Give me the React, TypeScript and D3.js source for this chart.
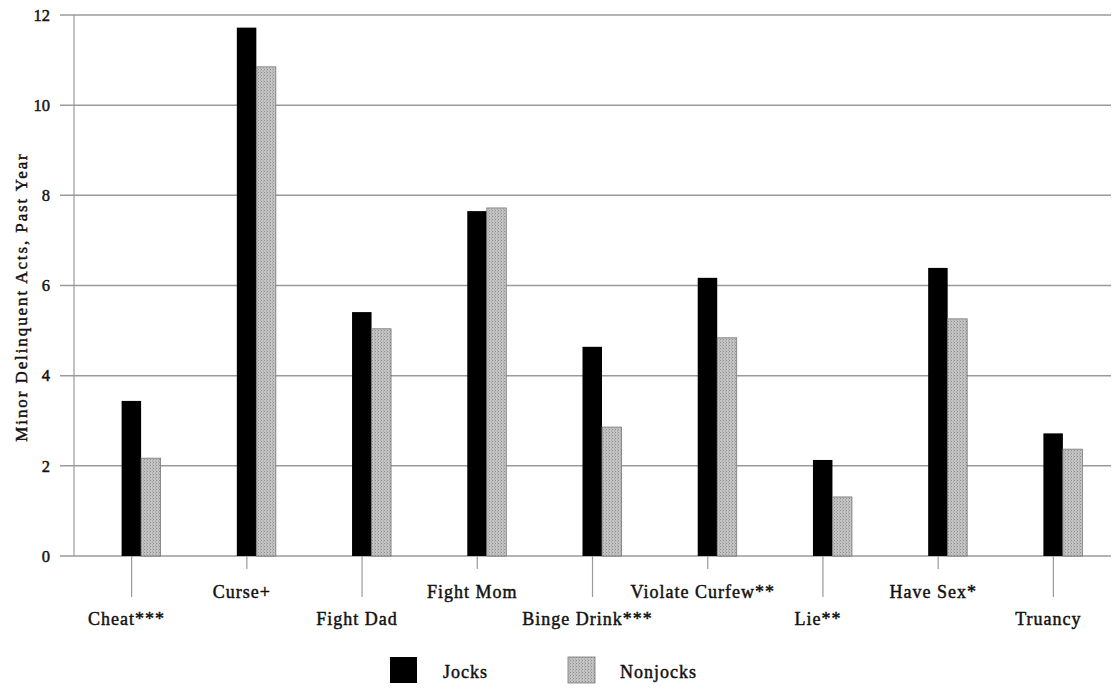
import React from "react";
import * as d3 from "d3";

const categories = [
  "Cheat***",
  "Curse+",
  "Fight Dad",
  "Fight Mom",
  "Binge Drink***",
  "Violate Curfew**",
  "Lie**",
  "Have Sex*",
  "Truancy",
];
const jocks = [3.44, 11.72, 5.41, 7.65, 4.64, 6.17, 2.13, 6.39, 2.72];
const nonjocks = [2.17, 10.85, 5.04, 7.72, 2.86, 4.84, 1.31, 5.26, 2.37];
const yTicks = [0, 2, 4, 6, 8, 10, 12];

const width = 1114;
const height = 688;
const left = 74;
const right = 1111;
const top = 15;
const bottom = 556;
const font = "'Liberation Serif', 'Times New Roman', serif";
const ink = "#111";

export default function App() {
  const x = d3
    .scaleBand<number>()
    .domain(categories.map((_, i) => i))
    .range([left, right]);
  const y = d3.scaleLinear().domain([0, 12]).range([bottom, top]);
  const barW = 19.5;

  // thicken text a little, the scan looks heavier than plain regular
  const textStyle = { fill: ink, stroke: ink, strokeWidth: 0.45 };

  return (
    <svg
      width={width}
      height={height}
      style={{ position: "absolute", left: 0, top: 0, background: "#fff" }}
      fontFamily={font}
    >
      <defs>
        <pattern id="dots" width="3" height="3" patternUnits="userSpaceOnUse">
          <rect width="3" height="3" fill="#c4c4c4" />
          <rect x="0" y="0" width="1" height="1" fill="#8c8c8c" />
          <rect x="2" y="1.5" width="1" height="1" fill="#9a9a9a" />
        </pattern>
      </defs>

      {/* gridlines */}
      {yTicks.map((t) => (
        <g key={t}>
          <line x1={60} x2={right} y1={y(t)} y2={y(t)} stroke="#9a9a9a" strokeWidth={1.5} />
          <text
            x={50}
            y={y(t)}
            dy="0.35em"
            textAnchor="end"
            fontSize={16.5}
            {...textStyle}
          >
            {t}
          </text>
        </g>
      ))}
      <line x1={left} x2={left} y1={top} y2={bottom} stroke="#9a9a9a" strokeWidth={1.2} />

      {/* bars */}
      {categories.map((c, i) => {
        const cx = (x(i) as number) + x.bandwidth() / 2;
        const low = i % 2 === 0;
        return (
          <g key={c}>
            <rect
              x={cx - 10}
              y={y(jocks[i])}
              width={barW}
              height={bottom - y(jocks[i])}
              fill="#000"
            />
            <rect
              x={cx - 10 + barW}
              y={y(nonjocks[i])}
              width={barW}
              height={bottom - y(nonjocks[i])}
              fill="url(#dots)"
              stroke="#777"
              strokeWidth={0.8}
            />
            <line
              x1={cx}
              x2={cx}
              y1={bottom}
              y2={low ? 597 : 569}
              stroke="#9a9a9a"
              strokeWidth={1.2}
            />
            <text
              x={cx - 5}
              y={low ? 625 : 598}
              textAnchor="middle"
              fontSize={18}
              letterSpacing={1}
              {...textStyle}
            >
              {c}
            </text>
          </g>
        );
      })}

      {/* y axis title */}
      <text
        transform="translate(27,297) rotate(-90)"
        textAnchor="middle"
        fontSize={17}
        letterSpacing={1.9}
        {...textStyle}
      >
        Minor Delinquent Acts, Past Year
      </text>

      {/* legend */}
      <rect x={390} y={657} width={27} height={26} fill="#000" />
      <text x={443} y={678} fontSize={18} letterSpacing={1} {...textStyle}>
        Jocks
      </text>
      <rect x={568} y={657} width={27} height={26} fill="url(#dots)" stroke="#777" strokeWidth={0.8} />
      <text x={620} y={678} fontSize={18} letterSpacing={1} {...textStyle}>
        Nonjocks
      </text>
    </svg>
  );
}
